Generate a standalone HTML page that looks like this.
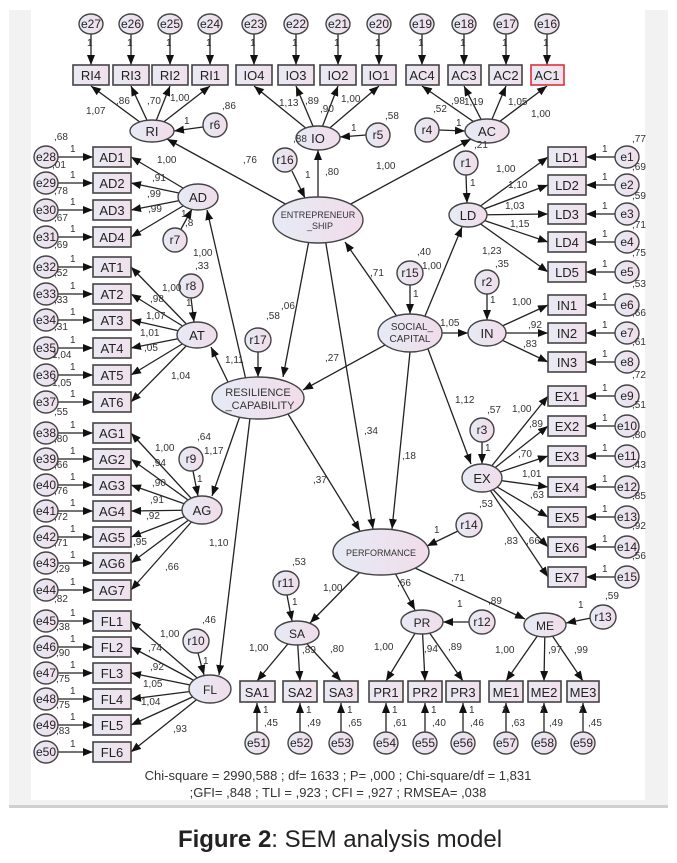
<!DOCTYPE html>
<html><head><meta charset="utf-8"><style>
html,body{margin:0;padding:0;background:#fff;width:677px;height:863px;overflow:hidden}
svg{display:block}
text{font-family:"Liberation Sans",Arial,sans-serif;fill:#333}
.l{font-size:10px}
.b{font-size:13px;fill:#222}
.c{font-size:12px;fill:#222}
line{stroke:#222;stroke-width:1.3}
rect.bx{fill:url(#gb);stroke:#444;stroke-width:1.6}
ellipse{fill:url(#ge);stroke:#444;stroke-width:1.4}
</style></head><body>
<svg width="677" height="863" viewBox="0 0 677 863" xmlns="http://www.w3.org/2000/svg">
<defs>
<marker id="a" markerWidth="10" markerHeight="8" refX="10" refY="4" orient="auto" markerUnits="userSpaceOnUse"><path d="M0,0 L10,4 L0,8z" fill="#111"/></marker>
<linearGradient id="ge" x1="0" y1="0" x2="1" y2="0"><stop offset="0" stop-color="#e6ebf5"/><stop offset="1" stop-color="#f1dcea"/></linearGradient>
<linearGradient id="gb" x1="0" y1="0" x2="1" y2="0"><stop offset="0" stop-color="#e9e9f3"/><stop offset="1" stop-color="#f0e0ec"/></linearGradient>
</defs>
<rect x="9" y="10" width="659" height="796" fill="#f2f2f2"/>
<rect x="31" y="10" width="614" height="790" fill="#fff"/>
<rect x="9" y="805" width="659" height="3" fill="#d0d0d0"/>

<g marker-end="url(#a)">
<line x1="91" y1="34" x2="91" y2="65"/><line x1="131" y1="34" x2="131" y2="65"/><line x1="170" y1="34" x2="170" y2="65"/><line x1="210" y1="34" x2="210" y2="65"/>
<line x1="254" y1="34" x2="254" y2="65"/><line x1="296" y1="34" x2="296" y2="65"/><line x1="338" y1="34" x2="338" y2="65"/><line x1="379" y1="34" x2="379" y2="65"/>
<line x1="422" y1="34" x2="422" y2="65"/><line x1="464" y1="34" x2="464" y2="65"/><line x1="506" y1="34" x2="506" y2="65"/><line x1="547" y1="34" x2="547" y2="65"/>
<line x1="152" y1="131" x2="91" y2="86"/><line x1="152" y1="131" x2="131" y2="86"/><line x1="152" y1="131" x2="170" y2="86"/><line x1="152" y1="131" x2="210" y2="86"/>
<line x1="318" y1="138" x2="254" y2="86"/><line x1="318" y1="138" x2="296" y2="86"/><line x1="318" y1="138" x2="338" y2="86"/><line x1="318" y1="138" x2="379" y2="86"/>
<line x1="487" y1="131" x2="422" y2="86"/><line x1="487" y1="131" x2="464" y2="86"/><line x1="487" y1="131" x2="506" y2="86"/><line x1="487" y1="131" x2="547" y2="86"/>
<line x1="58" y1="157" x2="93" y2="157"/><line x1="58" y1="183" x2="93" y2="183"/><line x1="58" y1="210" x2="93" y2="210"/><line x1="58" y1="237" x2="93" y2="237"/>
<line x1="58" y1="267" x2="93" y2="267"/><line x1="58" y1="294" x2="93" y2="294"/><line x1="58" y1="320" x2="93" y2="320"/><line x1="58" y1="348" x2="93" y2="348"/><line x1="58" y1="375" x2="93" y2="375"/><line x1="58" y1="402" x2="93" y2="402"/>
<line x1="58" y1="433" x2="93" y2="433"/><line x1="58" y1="459" x2="93" y2="459"/><line x1="58" y1="485" x2="93" y2="485"/><line x1="58" y1="511" x2="93" y2="511"/><line x1="58" y1="537" x2="93" y2="537"/><line x1="58" y1="563" x2="93" y2="563"/><line x1="58" y1="590" x2="93" y2="590"/>
<line x1="58" y1="621" x2="93" y2="621"/><line x1="58" y1="647" x2="93" y2="647"/><line x1="58" y1="673" x2="93" y2="673"/><line x1="58" y1="699" x2="93" y2="699"/><line x1="58" y1="725" x2="93" y2="725"/><line x1="58" y1="752" x2="93" y2="752"/>
<line x1="198" y1="197" x2="131" y2="157"/><line x1="198" y1="197" x2="131" y2="183"/><line x1="198" y1="197" x2="131" y2="210"/><line x1="198" y1="197" x2="131" y2="237"/>
<line x1="197" y1="335" x2="131" y2="267"/><line x1="197" y1="335" x2="131" y2="294"/><line x1="197" y1="335" x2="131" y2="320"/><line x1="197" y1="335" x2="131" y2="348"/><line x1="197" y1="335" x2="131" y2="375"/><line x1="197" y1="335" x2="131" y2="402"/>
<line x1="202" y1="510" x2="131" y2="433"/><line x1="202" y1="510" x2="131" y2="459"/><line x1="202" y1="510" x2="131" y2="485"/><line x1="202" y1="510" x2="131" y2="511"/><line x1="202" y1="510" x2="131" y2="537"/><line x1="202" y1="510" x2="131" y2="563"/><line x1="202" y1="510" x2="131" y2="590"/>
<line x1="210" y1="689" x2="131" y2="621"/><line x1="210" y1="689" x2="131" y2="647"/><line x1="210" y1="689" x2="131" y2="673"/><line x1="210" y1="689" x2="131" y2="699"/><line x1="210" y1="689" x2="131" y2="725"/><line x1="210" y1="689" x2="131" y2="752"/>
<line x1="615" y1="157" x2="586" y2="157"/><line x1="615" y1="185" x2="586" y2="185"/><line x1="615" y1="214" x2="586" y2="214"/><line x1="615" y1="242" x2="586" y2="242"/><line x1="615" y1="272" x2="586" y2="272"/>
<line x1="615" y1="305" x2="586" y2="305"/><line x1="615" y1="333" x2="586" y2="333"/><line x1="615" y1="362" x2="586" y2="362"/>
<line x1="615" y1="396" x2="586" y2="396"/><line x1="615" y1="426" x2="586" y2="426"/><line x1="615" y1="456" x2="586" y2="456"/><line x1="615" y1="487" x2="586" y2="487"/><line x1="615" y1="517" x2="586" y2="517"/><line x1="615" y1="547" x2="586" y2="547"/><line x1="615" y1="577" x2="586" y2="577"/>
<line x1="468" y1="215" x2="548" y2="157"/><line x1="468" y1="215" x2="548" y2="185"/><line x1="468" y1="215" x2="548" y2="214"/><line x1="468" y1="215" x2="548" y2="242"/><line x1="468" y1="215" x2="548" y2="272"/>
<line x1="487" y1="333" x2="548" y2="305"/><line x1="487" y1="333" x2="548" y2="333"/><line x1="487" y1="333" x2="548" y2="362"/>
<line x1="482" y1="478" x2="548" y2="396"/><line x1="482" y1="478" x2="548" y2="426"/><line x1="482" y1="478" x2="548" y2="456"/><line x1="482" y1="478" x2="548" y2="487"/><line x1="482" y1="478" x2="548" y2="517"/><line x1="482" y1="478" x2="548" y2="547"/><line x1="482" y1="478" x2="548" y2="577"/>
<line x1="297" y1="633" x2="257" y2="681"/><line x1="297" y1="633" x2="300" y2="681"/><line x1="297" y1="633" x2="341" y2="681"/>
<line x1="422" y1="622" x2="386" y2="681"/><line x1="422" y1="622" x2="425" y2="681"/><line x1="422" y1="622" x2="463" y2="681"/>
<line x1="545" y1="625" x2="506" y2="681"/><line x1="545" y1="625" x2="544" y2="681"/><line x1="545" y1="625" x2="583" y2="681"/>
<line x1="257" y1="732" x2="257" y2="703"/><line x1="300" y1="732" x2="300" y2="703"/><line x1="341" y1="732" x2="341" y2="703"/><line x1="386" y1="732" x2="386" y2="703"/><line x1="425" y1="732" x2="425" y2="703"/><line x1="463" y1="732" x2="463" y2="703"/><line x1="506" y1="732" x2="506" y2="703"/><line x1="544" y1="732" x2="544" y2="703"/><line x1="583" y1="732" x2="583" y2="703"/>
<line x1="203" y1="127" x2="174" y2="131"/><line x1="366" y1="135" x2="340" y2="137"/><line x1="439" y1="130" x2="465" y2="131"/>
<line x1="292" y1="171" x2="305" y2="198"/><line x1="181" y1="229" x2="192" y2="209"/><line x1="466" y1="175" x2="467" y2="203"/>
<line x1="191" y1="298" x2="194" y2="322"/><line x1="410" y1="285" x2="410" y2="314"/><line x1="487" y1="294" x2="487" y2="320"/>
<line x1="258" y1="352" x2="258" y2="377"/><line x1="193" y1="471" x2="198" y2="496"/><line x1="482" y1="442" x2="482" y2="464"/>
<line x1="458" y1="531" x2="427" y2="546"/><line x1="287" y1="595" x2="292" y2="621"/><line x1="198" y1="653" x2="204" y2="675"/>
<line x1="470" y1="622" x2="443" y2="622"/><line x1="591" y1="618" x2="566" y2="623"/>
<line x1="300" y1="212" x2="167" y2="139"/><line x1="318" y1="200" x2="318" y2="150"/><line x1="336" y1="212" x2="471" y2="139"/>
<line x1="310" y1="235" x2="283" y2="377"/><line x1="325" y1="238" x2="373" y2="529"/>
<line x1="398" y1="318" x2="345" y2="242"/><line x1="425" y1="316" x2="462" y2="227"/><line x1="442" y1="333" x2="468" y2="333"/>
<line x1="428" y1="349" x2="471" y2="464"/><line x1="385" y1="345" x2="303" y2="390"/><line x1="410" y1="352" x2="392" y2="529"/>
<line x1="246" y1="380" x2="207" y2="210"/><line x1="228" y1="382" x2="211" y2="347"/><line x1="240" y1="416" x2="212" y2="496"/>
<line x1="250" y1="418" x2="219" y2="675"/><line x1="288" y1="414" x2="360" y2="531"/>
<line x1="360" y1="572" x2="310" y2="623"/><line x1="395" y1="573" x2="415" y2="610"/><line x1="415" y1="568" x2="525" y2="619"/>
</g>

<g>
<ellipse cx="91" cy="24" rx="12" ry="10"/><ellipse cx="131" cy="24" rx="12" ry="10"/><ellipse cx="170" cy="24" rx="12" ry="10"/><ellipse cx="210" cy="24" rx="12" ry="10"/>
<ellipse cx="254" cy="24" rx="12" ry="10"/><ellipse cx="296" cy="24" rx="12" ry="10"/><ellipse cx="338" cy="24" rx="12" ry="10"/><ellipse cx="379" cy="24" rx="12" ry="10"/>
<ellipse cx="422" cy="24" rx="12" ry="10"/><ellipse cx="464" cy="24" rx="12" ry="10"/><ellipse cx="506" cy="24" rx="12" ry="10"/><ellipse cx="547" cy="24" rx="12" ry="10"/>
</g>
<g text-anchor="middle">
<text x="91" y="28" class="c">e27</text><text x="131" y="28" class="c">e26</text><text x="170" y="28" class="c">e25</text><text x="210" y="28" class="c">e24</text>
<text x="254" y="28" class="c">e23</text><text x="296" y="28" class="c">e22</text><text x="338" y="28" class="c">e21</text><text x="379" y="28" class="c">e20</text>
<text x="422" y="28" class="c">e19</text><text x="464" y="28" class="c">e18</text><text x="506" y="28" class="c">e17</text><text x="547" y="28" class="c">e16</text>
</g>
<rect class="bx" x="73" y="65" width="36" height="20"/><rect class="bx" x="113" y="65" width="36" height="20"/><rect class="bx" x="152" y="65" width="36" height="20"/><rect class="bx" x="192" y="65" width="36" height="20"/>
<rect class="bx" x="236" y="65" width="36" height="20"/><rect class="bx" x="278" y="65" width="36" height="20"/><rect class="bx" x="320" y="65" width="36" height="20"/><rect class="bx" x="362" y="65" width="34" height="20"/>
<rect class="bx" x="406" y="65" width="33" height="20"/><rect class="bx" x="448" y="65" width="33" height="20"/><rect class="bx" x="489" y="65" width="33" height="20"/><rect class="bx" x="531" y="65" width="33" height="20" style="stroke:#e0303a"/>
<g text-anchor="middle">
<text class="b" x="91" y="80">RI4</text><text class="b" x="131" y="80">RI3</text><text class="b" x="170" y="80">RI2</text><text class="b" x="210" y="80">RI1</text>
<text class="b" x="254" y="80">IO4</text><text class="b" x="296" y="80">IO3</text><text class="b" x="338" y="80">IO2</text><text class="b" x="379" y="80">IO1</text>
<text class="b" x="422" y="80">AC4</text><text class="b" x="464" y="80">AC3</text><text class="b" x="506" y="80">AC2</text><text class="b" x="547" y="80">AC1</text>
</g>

<g>
<ellipse cx="46" cy="157" rx="12" ry="11"/><ellipse cx="46" cy="183" rx="12" ry="11"/><ellipse cx="46" cy="210" rx="12" ry="11"/><ellipse cx="46" cy="237" rx="12" ry="11"/>
<ellipse cx="46" cy="267" rx="12" ry="11"/><ellipse cx="46" cy="294" rx="12" ry="11"/><ellipse cx="46" cy="320" rx="12" ry="11"/><ellipse cx="46" cy="348" rx="12" ry="11"/><ellipse cx="46" cy="375" rx="12" ry="11"/><ellipse cx="46" cy="402" rx="12" ry="11"/>
<ellipse cx="46" cy="433" rx="12" ry="11"/><ellipse cx="46" cy="459" rx="12" ry="11"/><ellipse cx="46" cy="485" rx="12" ry="11"/><ellipse cx="46" cy="511" rx="12" ry="11"/><ellipse cx="46" cy="537" rx="12" ry="11"/><ellipse cx="46" cy="563" rx="12" ry="11"/><ellipse cx="46" cy="590" rx="12" ry="11"/>
<ellipse cx="46" cy="621" rx="12" ry="11"/><ellipse cx="46" cy="647" rx="12" ry="11"/><ellipse cx="46" cy="673" rx="12" ry="11"/><ellipse cx="46" cy="699" rx="12" ry="11"/><ellipse cx="46" cy="725" rx="12" ry="11"/><ellipse cx="46" cy="752" rx="12" ry="11"/>
</g>
<g text-anchor="middle">
<text class="c" x="46" y="161">e28</text><text class="c" x="46" y="187">e29</text><text class="c" x="46" y="214">e30</text><text class="c" x="46" y="241">e31</text>
<text class="c" x="46" y="271">e32</text><text class="c" x="46" y="298">e33</text><text class="c" x="46" y="324">e34</text><text class="c" x="46" y="352">e35</text><text class="c" x="46" y="379">e36</text><text class="c" x="46" y="406">e37</text>
<text class="c" x="46" y="437">e38</text><text class="c" x="46" y="463">e39</text><text class="c" x="46" y="489">e40</text><text class="c" x="46" y="515">e41</text><text class="c" x="46" y="541">e42</text><text class="c" x="46" y="567">e43</text><text class="c" x="46" y="594">e44</text>
<text class="c" x="46" y="625">e45</text><text class="c" x="46" y="651">e46</text><text class="c" x="46" y="677">e47</text><text class="c" x="46" y="703">e48</text><text class="c" x="46" y="729">e49</text><text class="c" x="46" y="756">e50</text>
</g>
<g>
<rect class="bx" x="93" y="147" width="38" height="20"/><rect class="bx" x="93" y="173" width="38" height="20"/><rect class="bx" x="93" y="200" width="38" height="20"/><rect class="bx" x="93" y="227" width="38" height="20"/>
<rect class="bx" x="93" y="257" width="38" height="20"/><rect class="bx" x="93" y="284" width="38" height="20"/><rect class="bx" x="93" y="310" width="38" height="20"/><rect class="bx" x="93" y="338" width="38" height="20"/><rect class="bx" x="93" y="365" width="38" height="20"/><rect class="bx" x="93" y="392" width="38" height="20"/>
<rect class="bx" x="93" y="423" width="38" height="20"/><rect class="bx" x="93" y="449" width="38" height="20"/><rect class="bx" x="93" y="475" width="38" height="20"/><rect class="bx" x="93" y="501" width="38" height="20"/><rect class="bx" x="93" y="527" width="38" height="20"/><rect class="bx" x="93" y="553" width="38" height="20"/><rect class="bx" x="93" y="580" width="38" height="20"/>
<rect class="bx" x="93" y="611" width="38" height="20"/><rect class="bx" x="93" y="637" width="38" height="20"/><rect class="bx" x="93" y="663" width="38" height="20"/><rect class="bx" x="93" y="689" width="38" height="20"/><rect class="bx" x="93" y="715" width="38" height="20"/><rect class="bx" x="93" y="742" width="38" height="20"/>
</g>
<g text-anchor="middle">
<text class="b" x="112" y="162">AD1</text><text class="b" x="112" y="188">AD2</text><text class="b" x="112" y="215">AD3</text><text class="b" x="112" y="242">AD4</text>
<text class="b" x="112" y="272">AT1</text><text class="b" x="112" y="299">AT2</text><text class="b" x="112" y="325">AT3</text><text class="b" x="112" y="353">AT4</text><text class="b" x="112" y="380">AT5</text><text class="b" x="112" y="407">AT6</text>
<text class="b" x="112" y="438">AG1</text><text class="b" x="112" y="464">AG2</text><text class="b" x="112" y="490">AG3</text><text class="b" x="112" y="516">AG4</text><text class="b" x="112" y="542">AG5</text><text class="b" x="112" y="568">AG6</text><text class="b" x="112" y="595">AG7</text>
<text class="b" x="112" y="626">FL1</text><text class="b" x="112" y="652">FL2</text><text class="b" x="112" y="678">FL3</text><text class="b" x="112" y="704">FL4</text><text class="b" x="112" y="730">FL5</text><text class="b" x="112" y="757">FL6</text>
</g>

<g>
<ellipse cx="627" cy="157" rx="12" ry="11"/><ellipse cx="627" cy="185" rx="12" ry="11"/><ellipse cx="627" cy="214" rx="12" ry="11"/><ellipse cx="627" cy="242" rx="12" ry="11"/><ellipse cx="627" cy="272" rx="12" ry="11"/>
<ellipse cx="627" cy="305" rx="12" ry="11"/><ellipse cx="627" cy="333" rx="12" ry="11"/><ellipse cx="627" cy="362" rx="12" ry="11"/>
<ellipse cx="627" cy="396" rx="12" ry="11"/><ellipse cx="627" cy="426" rx="12" ry="11"/><ellipse cx="627" cy="456" rx="12" ry="11"/><ellipse cx="627" cy="487" rx="12" ry="11"/><ellipse cx="627" cy="517" rx="12" ry="11"/><ellipse cx="627" cy="547" rx="12" ry="11"/><ellipse cx="627" cy="577" rx="12" ry="11"/>
</g>
<g text-anchor="middle">
<text class="c" x="627" y="161">e1</text><text class="c" x="627" y="189">e2</text><text class="c" x="627" y="218">e3</text><text class="c" x="627" y="246">e4</text><text class="c" x="627" y="276">e5</text>
<text class="c" x="627" y="309">e6</text><text class="c" x="627" y="337">e7</text><text class="c" x="627" y="366">e8</text>
<text class="c" x="627" y="400">e9</text><text class="c" x="627" y="430">e10</text><text class="c" x="627" y="460">e11</text><text class="c" x="627" y="491">e12</text><text class="c" x="627" y="521">e13</text><text class="c" x="627" y="551">e14</text><text class="c" x="627" y="581">e15</text>
</g>
<g>
<rect class="bx" x="548" y="147" width="38" height="20"/><rect class="bx" x="548" y="175" width="38" height="20"/><rect class="bx" x="548" y="204" width="38" height="20"/><rect class="bx" x="548" y="232" width="38" height="20"/><rect class="bx" x="548" y="262" width="38" height="20"/>
<rect class="bx" x="548" y="295" width="38" height="20"/><rect class="bx" x="548" y="323" width="38" height="20"/><rect class="bx" x="548" y="352" width="38" height="20"/>
<rect class="bx" x="548" y="386" width="38" height="20"/><rect class="bx" x="548" y="416" width="38" height="20"/><rect class="bx" x="548" y="446" width="38" height="20"/><rect class="bx" x="548" y="477" width="38" height="20"/><rect class="bx" x="548" y="507" width="38" height="20"/><rect class="bx" x="548" y="537" width="38" height="20"/><rect class="bx" x="548" y="567" width="38" height="20"/>
</g>
<g text-anchor="middle">
<text class="b" x="567" y="162">LD1</text><text class="b" x="567" y="190">LD2</text><text class="b" x="567" y="219">LD3</text><text class="b" x="567" y="247">LD4</text><text class="b" x="567" y="277">LD5</text>
<text class="b" x="567" y="310">IN1</text><text class="b" x="567" y="338">IN2</text><text class="b" x="567" y="367">IN3</text>
<text class="b" x="567" y="401">EX1</text><text class="b" x="567" y="431">EX2</text><text class="b" x="567" y="461">EX3</text><text class="b" x="567" y="492">EX4</text><text class="b" x="567" y="522">EX5</text><text class="b" x="567" y="552">EX6</text><text class="b" x="567" y="582">EX7</text>
</g>

<g>
<rect class="bx" x="240" y="681" width="35" height="21"/><rect class="bx" x="283" y="681" width="34" height="21"/><rect class="bx" x="324" y="681" width="34" height="21"/>
<rect class="bx" x="369" y="681" width="34" height="21"/><rect class="bx" x="408" y="681" width="34" height="21"/><rect class="bx" x="446" y="681" width="34" height="21"/>
<rect class="bx" x="489" y="681" width="34" height="21"/><rect class="bx" x="528" y="681" width="33" height="21"/><rect class="bx" x="567" y="681" width="32" height="21"/>
</g>
<g text-anchor="middle">
<text class="b" x="257" y="697">SA1</text><text class="b" x="300" y="697">SA2</text><text class="b" x="341" y="697">SA3</text>
<text class="b" x="386" y="697">PR1</text><text class="b" x="425" y="697">PR2</text><text class="b" x="463" y="697">PR3</text>
<text class="b" x="506" y="697">ME1</text><text class="b" x="544" y="697">ME2</text><text class="b" x="583" y="697">ME3</text>
</g>
<g>
<ellipse cx="257" cy="743" rx="12" ry="11"/><ellipse cx="300" cy="743" rx="12" ry="11"/><ellipse cx="341" cy="743" rx="12" ry="11"/><ellipse cx="386" cy="743" rx="12" ry="11"/><ellipse cx="425" cy="743" rx="12" ry="11"/><ellipse cx="463" cy="743" rx="12" ry="11"/><ellipse cx="506" cy="743" rx="12" ry="11"/><ellipse cx="544" cy="743" rx="12" ry="11"/><ellipse cx="583" cy="743" rx="12" ry="11"/>
</g>
<g text-anchor="middle">
<text class="c" x="257" y="747">e51</text><text class="c" x="300" y="747">e52</text><text class="c" x="341" y="747">e53</text><text class="c" x="386" y="747">e54</text><text class="c" x="425" y="747">e55</text><text class="c" x="463" y="747">e56</text><text class="c" x="506" y="747">e57</text><text class="c" x="544" y="747">e58</text><text class="c" x="583" y="747">e59</text>
</g>

<g>
<ellipse cx="215" cy="125" rx="12" ry="12"/><ellipse cx="378" cy="135" rx="12" ry="12"/><ellipse cx="427" cy="130" rx="12" ry="12"/>
<ellipse cx="285" cy="160" rx="12" ry="12"/><ellipse cx="175" cy="240" rx="12" ry="12"/><ellipse cx="466" cy="163" rx="12" ry="12"/>
<ellipse cx="191" cy="286" rx="12" ry="12"/><ellipse cx="410" cy="273" rx="13" ry="12"/><ellipse cx="487" cy="282" rx="12" ry="12"/>
<ellipse cx="258" cy="340" rx="13" ry="12"/><ellipse cx="191" cy="459" rx="12" ry="12"/><ellipse cx="482" cy="430" rx="12" ry="12"/>
<ellipse cx="469" cy="525" rx="13" ry="12"/><ellipse cx="286" cy="583" rx="13" ry="12"/><ellipse cx="196" cy="641" rx="13" ry="12"/>
<ellipse cx="482" cy="622" rx="13" ry="12"/><ellipse cx="603" cy="617" rx="13" ry="12"/>
</g>
<g text-anchor="middle">
<text class="c" x="215" y="129">r6</text><text class="c" x="378" y="139">r5</text><text class="c" x="427" y="134">r4</text>
<text class="c" x="285" y="164">r16</text><text class="c" x="175" y="244">r7</text><text class="c" x="466" y="167">r1</text>
<text class="c" x="191" y="290">r8</text><text class="c" x="410" y="277">r15</text><text class="c" x="487" y="286">r2</text>
<text class="c" x="258" y="344">r17</text><text class="c" x="191" y="463">r9</text><text class="c" x="482" y="434">r3</text>
<text class="c" x="469" y="529">r14</text><text class="c" x="286" y="587">r11</text><text class="c" x="196" y="645">r10</text>
<text class="c" x="482" y="626">r12</text><text class="c" x="603" y="621">r13</text>
</g>

<ellipse cx="152" cy="131" rx="22" ry="11"/><ellipse cx="318" cy="138" rx="22" ry="12"/><ellipse cx="487" cy="131" rx="22" ry="12"/>
<ellipse cx="198" cy="197" rx="20" ry="13"/><ellipse cx="197" cy="335" rx="20" ry="13"/><ellipse cx="202" cy="510" rx="20" ry="14"/><ellipse cx="210" cy="689" rx="21" ry="14"/>
<ellipse cx="318" cy="220" rx="45" ry="23"/><ellipse cx="258" cy="398" rx="46" ry="21"/><ellipse cx="410" cy="333" rx="32" ry="19"/>
<ellipse cx="468" cy="215" rx="19" ry="12"/><ellipse cx="487" cy="333" rx="19" ry="13"/><ellipse cx="482" cy="478" rx="20" ry="14"/>
<ellipse cx="381" cy="552" rx="48" ry="23"/><ellipse cx="297" cy="633" rx="22" ry="12"/><ellipse cx="422" cy="622" rx="21" ry="12"/><ellipse cx="545" cy="625" rx="21" ry="12"/>
<g text-anchor="middle">
<text class="b" x="152" y="136">RI</text><text class="b" x="318" y="143">IO</text><text class="b" x="487" y="136">AC</text>
<text class="b" x="198" y="202">AD</text><text class="b" x="197" y="340">AT</text><text class="b" x="202" y="515">AG</text><text class="c" x="210" y="694">FL</text>
<text x="318" y="218" font-size="9" fill="#222">ENTREPRENEUR</text><text x="320" y="229" font-size="9" fill="#222">_SHIP</text>
<text x="258" y="396" font-size="11" fill="#222">RESILIENCE</text><text x="260" y="409" font-size="11" fill="#222">_CAPABILITY</text>
<text x="412" y="330" font-size="10" fill="#222">SOCIAL_</text><text x="410" y="342" font-size="10" fill="#222">CAPITAL</text>
<text class="b" x="468" y="220">LD</text><text class="b" x="487" y="338">IN</text><text class="b" x="482" y="483">EX</text>
<text x="381" y="556" font-size="9" fill="#222">PERFORMANCE</text>
<text class="c" x="297" y="638">SA</text><text class="c" x="422" y="627">PR</text><text class="c" x="545" y="630">ME</text>
</g>

<g class="l">
<text x="87" y="46">1</text><text x="127" y="46">1</text><text x="166" y="46">1</text><text x="206" y="46">1</text><text x="250" y="46">1</text><text x="292" y="46">1</text><text x="334" y="46">1</text><text x="375" y="46">1</text><text x="418" y="46">1</text><text x="460" y="46">1</text><text x="502" y="46">1</text><text x="543" y="46">1</text>
<text x="86" y="114">1,07</text><text x="116" y="104">,86</text><text x="147" y="104">,70</text><text x="170" y="101">1,00</text><text x="222" y="109">,86</text><text x="184" y="124">1</text>
<text x="279" y="106">1,13</text><text x="305" y="104">,89</text><text x="320" y="112">,90</text><text x="341" y="102">1,00</text><text x="293" y="142">,88</text><text x="351" y="131">1</text><text x="385" y="119">,58</text>
<text x="433" y="112">,52</text><text x="451" y="104">,98</text><text x="464" y="105">1,19</text><text x="508" y="105">1,05</text><text x="531" y="117">1,00</text><text x="456" y="126">1</text><text x="474" y="148">,21</text>
<text x="243" y="163">,76</text><text x="325" y="175">,80</text><text x="376" y="169">1,00</text><text x="305" y="178">1</text>
<text x="632" y="142">,77</text><text x="602" y="152">1</text><text x="602" y="180">1</text><text x="602" y="209">1</text><text x="602" y="237">1</text><text x="602" y="267">1</text>
<text x="632" y="170">,69</text><text x="632" y="199">,59</text><text x="632" y="228">,71</text><text x="632" y="256">,75</text><text x="632" y="287">,53</text>
<text x="496" y="172">1,00</text><text x="508" y="188">1,10</text><text x="505" y="209">1,03</text><text x="510" y="227">1,15</text><text x="482" y="254">1,23</text><text x="470" y="186">1</text>
<text x="602" y="300">1</text><text x="602" y="328">1</text><text x="602" y="357">1</text><text x="602" y="391">1</text><text x="602" y="421">1</text><text x="602" y="451">1</text><text x="602" y="482">1</text><text x="602" y="512">1</text><text x="602" y="542">1</text><text x="602" y="572">1</text>
<text x="512" y="305">1,00</text><text x="528" y="328">,92</text><text x="523" y="347">,83</text><text x="490" y="303">1</text><text x="495" y="267">,35</text>
<text x="632" y="316">,66</text><text x="632" y="345">,61</text><text x="632" y="378">,72</text>
<text x="417" y="255">,40</text><text x="422" y="269">1,00</text><text x="413" y="297">1</text><text x="370" y="276">,71</text><text x="440" y="326">1,05</text><text x="455" y="403">1,12</text><text x="325" y="361">,27</text>
<text x="487" y="413">,57</text><text x="485" y="451">1</text><text x="512" y="412">1,00</text><text x="529" y="427">,89</text><text x="518" y="457">,70</text><text x="522" y="477">1,01</text><text x="530" y="498">,63</text><text x="479" y="507">,53</text><text x="504" y="544">,83</text><text x="526" y="544">,66</text>
<text x="632" y="408">,51</text><text x="632" y="438">,80</text><text x="632" y="468">,43</text><text x="632" y="499">,85</text><text x="632" y="529">,92</text><text x="632" y="559">,56</text><text x="605" y="599">,59</text>
<text x="281" y="309">,06</text><text x="266" y="319">,58</text><text x="364" y="434">,34</text><text x="402" y="459">,18</text><text x="313" y="483">,37</text>
<text x="54" y="140">,68</text><text x="52" y="168">,01</text><text x="54" y="194">,78</text><text x="54" y="221">,67</text><text x="54" y="248">,69</text>
<text x="70" y="152">1</text><text x="70" y="178">1</text><text x="70" y="205">1</text><text x="70" y="232">1</text>
<text x="157" y="163">1,00</text><text x="152" y="181">,91</text><text x="147" y="197">,99</text><text x="148" y="212">,99</text><text x="181" y="217">1</text><text x="185" y="226">,8</text>
<text x="193" y="256">1,00</text><text x="195" y="269">,33</text>
<text x="70" y="262">1</text><text x="70" y="289">1</text><text x="70" y="315">1</text><text x="70" y="343">1</text><text x="70" y="370">1</text><text x="70" y="397">1</text>
<text x="54" y="276">,52</text><text x="54" y="303">,33</text><text x="54" y="330">,31</text><text x="52" y="358">1,04</text><text x="52" y="386">1,05</text><text x="54" y="415">,55</text>
<text x="162" y="291">1,00</text><text x="150" y="302">,98</text><text x="146" y="319">1,07</text><text x="140" y="336">1,01</text><text x="144" y="351">,05</text><text x="171" y="379">1,04</text><text x="186" y="306">1</text><text x="225" y="363">1,11</text>
<text x="70" y="428">1</text><text x="70" y="454">1</text><text x="70" y="480">1</text><text x="70" y="506">1</text><text x="70" y="532">1</text><text x="70" y="558">1</text><text x="70" y="585">1</text>
<text x="54" y="442">,80</text><text x="54" y="468">,66</text><text x="54" y="494">,76</text><text x="54" y="520">,72</text><text x="54" y="546">,71</text><text x="56" y="572">,29</text><text x="54" y="602">,82</text>
<text x="155" y="451">1,00</text><text x="152" y="466">,94</text><text x="152" y="486">,90</text><text x="150" y="503">,91</text><text x="146" y="519">,92</text><text x="133" y="545">,95</text><text x="165" y="570">,66</text><text x="197" y="482">1</text><text x="197" y="440">,64</text><text x="204" y="454">1,17</text><text x="209" y="546">1,10</text>
<text x="70" y="616">1</text><text x="70" y="642">1</text><text x="70" y="668">1</text><text x="70" y="694">1</text><text x="70" y="720">1</text><text x="70" y="747">1</text>
<text x="56" y="630">,38</text><text x="56" y="656">,90</text><text x="56" y="682">,75</text><text x="56" y="708">,75</text><text x="56" y="734">,83</text>
<text x="160" y="637">1,00</text><text x="148" y="651">,74</text><text x="150" y="670">,92</text><text x="143" y="687">1,05</text><text x="141" y="705">1,04</text><text x="173" y="732">,93</text><text x="202" y="623">,46</text><text x="203" y="664">1</text>
<text x="434" y="533">1</text><text x="323" y="591">1,00</text><text x="397" y="586">,66</text><text x="451" y="581">,71</text><text x="488" y="604">,89</text><text x="292" y="605">1</text><text x="292" y="565">,53</text><text x="457" y="607">1</text><text x="578" y="608">1</text>
<text x="249" y="651">1,00</text><text x="302" y="653">,89</text><text x="330" y="652">,80</text><text x="374" y="650">1,00</text><text x="424" y="652">,94</text><text x="448" y="650">,89</text><text x="495" y="653">1,00</text><text x="548" y="653">,97</text><text x="574" y="653">,99</text>
<text x="263" y="713">1</text><text x="306" y="713">1</text><text x="347" y="713">1</text><text x="392" y="713">1</text><text x="431" y="713">1</text><text x="469" y="713">1</text><text x="502" y="713">1</text><text x="540" y="713">1</text><text x="579" y="713">1</text>
<text x="264" y="726">,45</text><text x="307" y="726">,49</text><text x="348" y="726">,65</text><text x="393" y="726">,61</text><text x="432" y="726">,40</text><text x="470" y="726">,46</text><text x="511" y="726">,63</text><text x="549" y="726">,49</text><text x="588" y="726">,45</text>
</g>

<g text-anchor="middle">
<text x="338" y="780" style="font-size:13px;fill:#333">Chi-square = 2990,588 ; df= 1633 ; P= ,000 ; Chi-square/df = 1,831</text>
<text x="338" y="797" style="font-size:13px;fill:#333">;GFI= ,848 ; TLI = ,923 ; CFI = ,927 ; RMSEA= ,038</text>
</g>
<text x="340" y="847" text-anchor="middle" style="font-size:24px;fill:#222"><tspan font-weight="bold">Figure 2</tspan>: SEM analysis model</text>
</svg>
</body></html>
